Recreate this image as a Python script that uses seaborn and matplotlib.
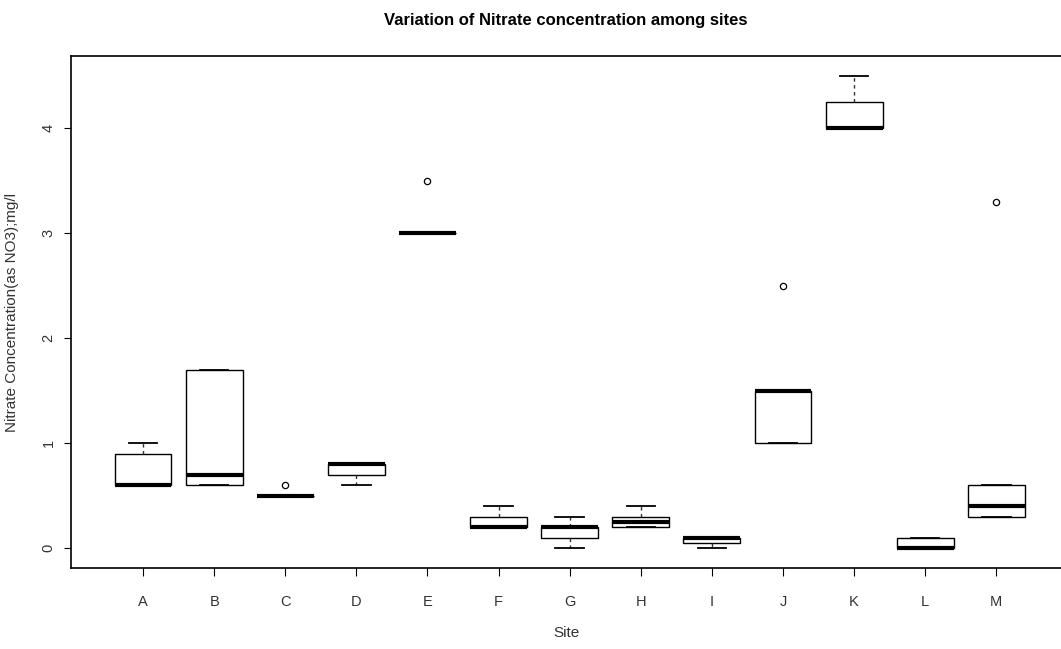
import matplotlib
matplotlib.use("Agg")
import matplotlib.pyplot as plt
import seaborn as sns
import pandas as pd

sites = ["A", "B", "C", "D", "E", "F", "G", "H", "I", "J", "K", "L", "M"]
site_A = [0.6, 0.6, 0.6, 0.9, 1.0]
site_B = [0.6, 0.6, 0.7, 1.7, 1.7]
site_C = [0.5, 0.5, 0.5, 0.5, 0.6]
site_D = [0.6, 0.7, 0.8, 0.8, 0.8]
site_E = [3.0, 3.0, 3.0, 3.0, 3.5]
site_F = [0.2, 0.2, 0.2, 0.3, 0.4]
site_G = [0.0, 0.1, 0.2, 0.2, 0.3]
site_H = [0.2, 0.2, 0.25, 0.3, 0.4]
site_I = [0.0, 0.05, 0.1, 0.1, 0.1]
site_J = [1.0, 1.0, 1.5, 1.5, 2.5]
site_K = [4.0, 4.0, 4.0, 4.25, 4.5]
site_L = [0.0, 0.0, 0.0, 0.1, 0.1]
site_M = [0.3, 0.3, 0.4, 0.6, 3.3]
y_ticks = [0, 1, 2, 3, 4]

values = [site_A, site_B, site_C, site_D, site_E, site_F, site_G,
          site_H, site_I, site_J, site_K, site_L, site_M]
rows = []
for s, vals in zip(sites, values):
    for v in vals:
        rows.append({"Site": s, "Nitrate": v})
df = pd.DataFrame(rows)

plt.rcParams['font.family'] = ['Liberation Sans Narrow', 'Liberation Sans', 'DejaVu Sans']

fig = plt.figure(figsize=(10.61, 6.49), dpi=100)
ax = fig.add_axes([71 / 1061, (649 - 568) / 649, 1 - 71 / 1061, (568 - 56) / 649])

sns.boxplot(data=df, x="Site", y="Nitrate", order=sites, ax=ax,
            color="white", linecolor="black", linewidth=1.0, width=0.8,
            whiskerprops=dict(linestyle=(0, (2.5, 2.5)), linewidth=1.0, color="#333333"),
            capprops=dict(linewidth=1.3, color="black"),
            medianprops=dict(linewidth=3.0, color="black"),
            boxprops=dict(facecolor="white", edgecolor="black", linewidth=1.0),
            flierprops=dict(marker="o", markerfacecolor="none",
                            markeredgecolor="black", markersize=4.5, markeredgewidth=0.9))

ax.set_xlim(-1.013, 12.91)
ax.set_ylim(-0.19, 4.686)
ax.set_yticks(y_ticks)
ax.set_yticklabels([str(t) for t in y_ticks], rotation=90, va="center", fontsize=10.5, color="#333333")
ax.tick_params(axis="x", length=5.5, width=0.8, pad=14, labelsize=10.5, labelcolor="#333333")
ax.tick_params(axis="y", length=5, width=0.8, pad=6)
ax.spines["right"].set_visible(False)
for sp in ["left", "bottom", "top"]:
    ax.spines[sp].set_linewidth(1.2)
ax.set_xlabel("Site", fontsize=11, color="#333333")
ax.set_ylabel("Nitrate Concentration(as NO3);mg/l", fontsize=11, color="#333333")
ax.xaxis.set_label_coords(0.5, (568 - 626) / 512)
ax.yaxis.set_label_coords((19 - 71) / 990, 0.5)
fig.text(566 / 1061, 0.968, "Variation of Nitrate concentration among sites",
         ha="center", va="center", fontsize=12, fontweight="bold")

fig.savefig("out.png", dpi=100)
